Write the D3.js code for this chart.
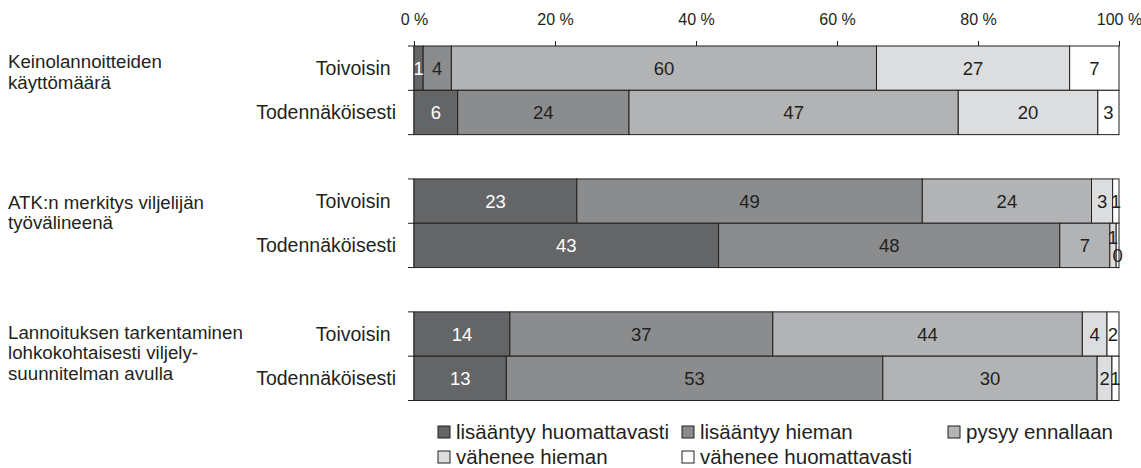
<!DOCTYPE html>
<html>
  <head>
    <meta charset="utf-8" />
    <script src="https://d3js.org/d3.v7.min.js"></script>
    <style>
      body { margin: 0; background: #fff; }
      text { font-family: "Liberation Sans", Arial, sans-serif; fill: #231f20; }
    </style>
  </head>
  <body>
    <svg id="chart" width="1141" height="468"></svg>

    <script>
      // categories
      var groups = [
        ["Keinolannoitteiden", "käyttömäärä"],
        ["ATK:n merkitys viljelijän", "työvälineenä"],
        ["Lannoituksen tarkentaminen", "lohkokohtaisesti viljely-", "suunnitelman avulla"]
      ];
      var rowLabels = ["Toivoisin", "Todennäköisesti"];
      var seriesNames = [
        "lisääntyy huomattavasti",
        "lisääntyy hieman",
        "pysyy ennallaan",
        "vähenee hieman",
        "vähenee huomattavasti"
      ];

      // shares (%) per bar; labels are the rounded values
      var keinoToivoisin = [1.3, 4.0, 60.3, 27.4, 7.0];
      var keinoTodennak = [6.2, 24.3, 46.7, 19.8, 3.0];
      var atkToivoisin = [23.1, 49.0, 24.0, 3.0, 0.9];
      var atkTodennak = [43.2, 48.4, 7.1, 0.9, 0.4];
      var lannToivoisin = [13.6, 37.3, 43.9, 3.5, 1.7];
      var lannTodennak = [13.1, 53.4, 30.4, 2.1, 1.0];

      var tickValues = [0, 20, 40, 60, 80, 100];

      var barData = [
        [keinoToivoisin, keinoTodennak],
        [atkToivoisin, atkTodennak],
        [lannToivoisin, lannTodennak]
      ];

      var colors = ["#646567", "#8b8c8e", "#b2b3b5", "#dcdddf", "#ffffff"];
      var labelColors = ["#ffffff", "#231f20", "#231f20", "#231f20", "#231f20"];
      var ink = "#231f20";

      var svg = d3.select("#chart");

      var x = d3.scaleLinear().domain([0, 100]).range([414, 1119]);

      // 8 rows: two bars per group, an empty row between groups
      var rowKeys = ["g0r0", "g0r1", "gap0", "g1r0", "g1r1", "gap1", "g2r0", "g2r1"];
      var y = d3.scaleBand().domain(rowKeys).range([46, 400.5]).padding(0);

      // top axis
      svg.append("g")
        .attr("transform", "translate(0," + y("g0r0") + ")")
        .call(
          d3.axisTop(x)
            .tickValues(tickValues)
            .tickFormat(function (d) { return d + " %"; })
            .tickSize(5)
            .tickSizeOuter(0)
            .tickPadding(16)
        )
        .call(function (g) {
          g.select(".domain").attr("stroke", ink);
          g.selectAll(".tick line").attr("stroke", ink);
          g.selectAll(".tick text")
            .attr("font-size", 16)
            .attr("font-family", "Liberation Sans, Arial, sans-serif")
            .attr("fill", ink);
        });

      var groupLabelDy = [22, 30, 27];

      groups.forEach(function (lines, gi) {
        var top = y("g" + gi + "r0");
        var bottom = y("g" + gi + "r1") + y.bandwidth();
        var g = svg.append("g");

        // group label
        var t = g.append("text")
          .attr("x", 8)
          .attr("y", top + groupLabelDy[gi])
          .attr("font-size", 18.7);
        lines.forEach(function (line, li) {
          t.append("tspan")
            .attr("x", 8)
            .attr("dy", li === 0 ? 0 : 20.5)
            .text(line);
        });

        // left axis line with ticks at row edges
        g.append("line")
          .attr("x1", x(0)).attr("x2", x(0))
          .attr("y1", top).attr("y2", bottom)
          .attr("stroke", ink);
        [top, y("g" + gi + "r1"), bottom].forEach(function (yy) {
          g.append("line")
            .attr("x1", x(0) - 6).attr("x2", x(0))
            .attr("y1", yy).attr("y2", yy)
            .attr("stroke", ink);
        });

        barData[gi].forEach(function (vals, ri) {
          var key = "g" + gi + "r" + ri;
          var y0 = y(key);
          var cy = y0 + y.bandwidth() / 2;

          g.append("text")
            .attr("x", 396)
            .attr("y", cy + 7)
            .attr("text-anchor", "end")
            .attr("font-size", 19.5)
            .style("white-space", "pre")
            .text(ri === 0 ? rowLabels[ri] + " " : rowLabels[ri]);

          var cum = 0;
          var segs = vals.map(function (v, i) {
            var s = { i: i, v: v, x0: cum, x1: cum + v };
            cum += v;
            return s;
          });

          g.selectAll(".seg-" + key)
            .data(segs)
            .enter()
            .append("rect")
            .attr("class", "seg-" + key)
            .attr("x", function (d) { return x(d.x0); })
            .attr("y", y0)
            .attr("width", function (d) { return x(d.x1) - x(d.x0); })
            .attr("height", y.bandwidth())
            .attr("fill", function (d) { return colors[d.i]; })
            .attr("stroke", ink)
            .attr("stroke-width", 1);

          // stagger labels of two neighbouring very thin segments
          var dys = segs.map(function () { return 0; });
          segs.forEach(function (d, i) {
            if (i > 0 && x(d.x1) - x(d.x0) < 8 && x(segs[i - 1].x1) - x(segs[i - 1].x0) < 8) {
              dys[i - 1] = -8;
              dys[i] = 10;
            }
          });

          g.selectAll(".lab-" + key)
            .data(segs)
            .enter()
            .append("text")
            .attr("class", "lab-" + key)
            .attr("x", function (d) { return (x(d.x0) + x(d.x1)) / 2; })
            .attr("y", function (d) { return cy + 6.5 + dys[d.i]; })
            .attr("text-anchor", "middle")
            .attr("font-size", 18.5)
            .style("fill", function (d) { return labelColors[d.i]; })
            .text(function (d) { return Math.round(d.v); });
        });
      });

      // legend
      var legendX = [438, 682, 948];
      var legendY = [432, 457];
      var legend = svg.append("g");
      seriesNames.forEach(function (name, i) {
        var lx = legendX[i % 3];
        var ly = legendY[Math.floor(i / 3)];
        legend.append("rect")
          .attr("x", lx)
          .attr("y", ly - 6)
          .attr("width", 12)
          .attr("height", 12)
          .attr("fill", colors[i])
          .attr("stroke", ink);
        legend.append("text")
          .attr("x", lx + 18)
          .attr("y", ly + 7)
          .attr("font-size", 20.5)
          .text(name);
      });
    </script>
  </body>
</html>
